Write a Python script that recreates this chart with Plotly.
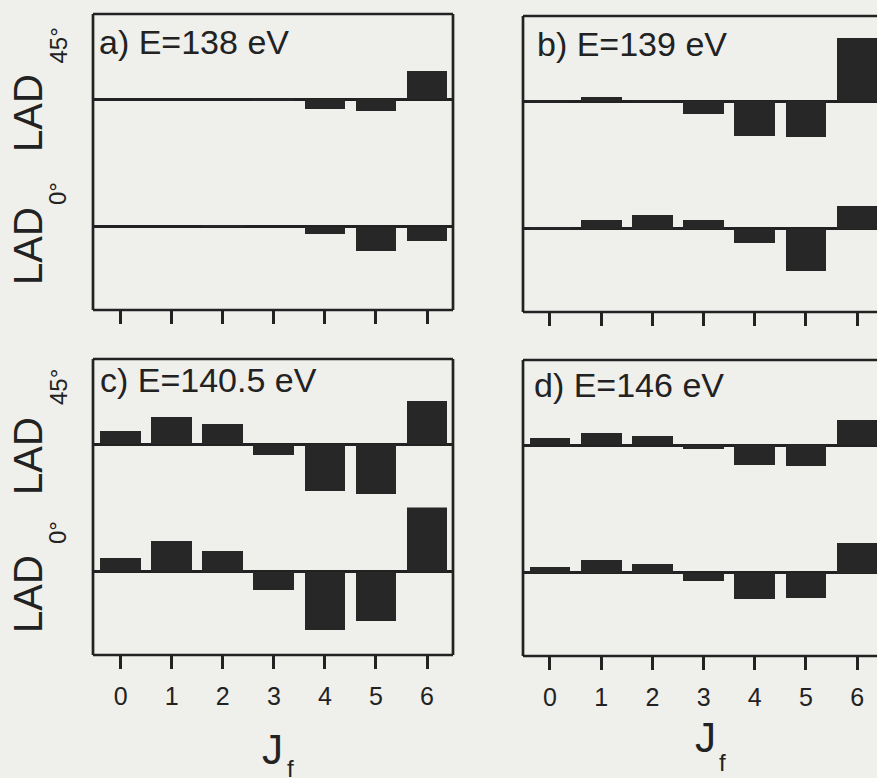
import plotly.graph_objects as go

W, H = 877, 778

J = [0, 1, 2, 3, 4, 5, 6]
tick_labels = ["0", "1", "2", "3", "4", "5", "6"]

# LAD values (arbitrary units)
a_lad45 = [0.0, 0.0, 0.0, -0.02, -0.10, -0.12, 0.28]
a_lad0 = [0.0, 0.0, 0.015, 0.0, -0.077, -0.24, -0.14]
b_lad45 = [0.01, 0.04, 0.01, -0.13, -0.35, -0.36, 0.63]
b_lad0 = [0.02, 0.09, 0.137, 0.09, -0.14, -0.42, 0.23]
c_lad45 = [0.127, 0.27, 0.197, -0.107, -0.47, -0.50, 0.433]
c_lad0 = [0.137, 0.307, 0.203, -0.18, -0.583, -0.497, 0.783]
d_lad45 = [0.067, 0.12, 0.09, -0.043, -0.20, -0.21, 0.247]
d_lad0 = [0.057, 0.123, 0.09, -0.083, -0.267, -0.253, 0.30]

panel_titles = ["a) E=138 eV", "b) E=139 eV", "c) E=140.5 eV", "d) E=146 eV"]
panel_data = [(a_lad45, a_lad0), (b_lad45, b_lad0), (c_lad45, c_lad0), (d_lad45, d_lad0)]

INK = "#222222"
BAR = "#272727"
BG = "#efefec"
FONT = "Liberation Sans, Arial, Helvetica"

TOP_UP, MID, BOT_DN = 0.85, 0.635, 0.84  # axis units; 1 unit = 100 px
SCALE = 100.0
panels = [
    dict(x0=93, x1=453, top=14, xr=[-0.543, 6.509], right_visible=True, labels=False,
         title_xy=(97, 41.5)),
    dict(x0=523, x1=877, top=16, xr=[-0.527, 6.387], right_visible=False, labels=False,
         title_xy=(535, 43.5)),
    dict(x0=93, x1=453, top=359, xr=[-0.543, 6.509], right_visible=True, labels=True,
         title_xy=(97.5, 379.5), jxy=(272.5, 749), fxy=(290, 768)),
    dict(x0=523, x1=877, top=360, xr=[-0.527, 6.387], right_visible=False, labels=True,
         title_xy=(532, 385), jxy=(705.5, 737.5), fxy=(722.5, 762)),
]
# rotated y-label positions (centers, px): (LAD45, sub45, LAD0, sub0)
ylab = {
    0: dict(lad45=(28, 113), s45=(58, 45.5), lad0=(28, 246), s0=(57, 194)),
    2: dict(lad45=(28, 456), s45=(58, 387), lad0=(28, 594), s0=(57, 533)),
}


def px(x):
    return x / W


def py(y):
    return 1 - y / H


fig = go.Figure()
shapes = []
annotations = []


def ann(text, x, y, size, angle=0, xanchor="center"):
    annotations.append(dict(text=text, xref="paper", yref="paper", x=px(x), y=py(y),
                            xanchor=xanchor, yanchor="middle", textangle=angle, showarrow=False,
                            font=dict(size=size, color=INK, family=FONT)))


for i, (p, (top_vals, bot_vals)) in enumerate(zip(panels, panel_data)):
    h_top = (TOP_UP + MID) * SCALE
    h_bot = (MID + BOT_DN) * SCALE
    y_top = p["top"]
    y_mid = y_top + h_top
    y_bot = y_mid + h_bot
    n = 2 * i + 1
    xa_t, ya_t = f"x{n}", f"y{n}"
    xa_b, ya_b = f"x{n+1}", f"y{n+1}"
    fig.add_trace(go.Bar(x=J, y=top_vals, width=0.8, marker=dict(color=BAR, line=dict(width=0)),
                         xaxis=xa_t, yaxis=ya_t, showlegend=False, hoverinfo="skip"))
    fig.add_trace(go.Bar(x=J, y=bot_vals, width=0.8, marker=dict(color=BAR, line=dict(width=0)),
                         xaxis=xa_b, yaxis=ya_b, showlegend=False, hoverinfo="skip"))
    common_x = dict(range=p["xr"], domain=[px(p["x0"]), min(1.0, px(p["x1"]))],
                    showgrid=False, zeroline=False, showline=False, fixedrange=True)
    fig.layout[f"xaxis{n}"] = dict(common_x, anchor=ya_t, showticklabels=False, ticks="")
    fig.layout[f"xaxis{n+1}"] = dict(common_x, anchor=ya_b, tickvals=J, ticktext=tick_labels,
                                      ticks="outside", ticklen=13, tickwidth=2.5, tickcolor=INK,
                                      showticklabels=p["labels"], ticklabelstandoff=6,
                                      tickfont=dict(size=25, color=INK, family=FONT))
    common_y = dict(showgrid=False, zeroline=True, zerolinecolor=INK, zerolinewidth=2.5,
                    showticklabels=False, ticks="", showline=False, fixedrange=True)
    fig.layout[f"yaxis{n}"] = dict(common_y, anchor=xa_t, range=[-MID, TOP_UP],
                                    domain=[py(y_mid), py(y_top)])
    fig.layout[f"yaxis{n+1}"] = dict(common_y, anchor=xa_b, range=[-BOT_DN, MID],
                                      domain=[py(y_bot), py(y_mid)])
    # frame
    lw = 2.7
    xr_edge = px(p["x1"]) if p["right_visible"] else 1.0
    shapes.append(dict(type="line", xref="paper", yref="paper", x0=px(p["x0"]), x1=xr_edge,
                       y0=py(y_top), y1=py(y_top), line=dict(color=INK, width=lw)))
    shapes.append(dict(type="line", xref="paper", yref="paper", x0=px(p["x0"]), x1=xr_edge,
                       y0=py(y_bot), y1=py(y_bot), line=dict(color=INK, width=lw)))
    shapes.append(dict(type="line", xref="paper", yref="paper", x0=px(p["x0"]), x1=px(p["x0"]),
                       y0=py(y_top), y1=py(y_bot), line=dict(color=INK, width=lw)))
    if p["right_visible"]:
        shapes.append(dict(type="line", xref="paper", yref="paper", x0=px(p["x1"]), x1=px(p["x1"]),
                           y0=py(y_top), y1=py(y_bot), line=dict(color=INK, width=lw)))
    # panel title
    tx, ty = p["title_xy"]
    ann(panel_titles[i], tx, ty, 34, xanchor="left")
    # x title J_f
    if p["labels"]:
        ann("J", p["jxy"][0], p["jxy"][1], 42)
        ann("f", p["fxy"][0], p["fxy"][1], 24)
    # y labels
    if i in ylab:
        L = ylab[i]
        ann("LAD", L["lad45"][0], L["lad45"][1], 40, angle=-90)
        ann("45°", L["s45"][0], L["s45"][1], 24, angle=-90)
        ann("LAD", L["lad0"][0], L["lad0"][1], 40, angle=-90)
        ann("0°", L["s0"][0], L["s0"][1], 24, angle=-90)

fig.update_layout(width=W, height=H, margin=dict(l=0, r=0, t=0, b=0),
                  paper_bgcolor=BG, plot_bgcolor=BG, shapes=shapes, annotations=annotations,
                  bargap=0, showlegend=False)

fig.write_html("out.html", config={"displayModeBar": False},
               post_script="document.body.style.margin='0';document.body.style.background='%s';" % BG)
